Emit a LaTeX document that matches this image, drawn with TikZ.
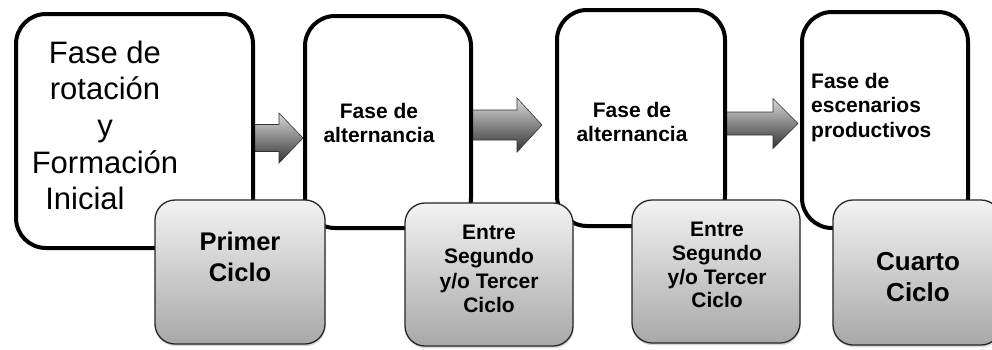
\documentclass[tikz,border=0pt]{standalone}
\usepackage{fontspec}
\setmainfont{Liberation Sans}
\usetikzlibrary{calc,shadows}
\tikzset{
  holder/.style={rectangle, inner sep=0pt, outer sep=0pt},
  wshape/.style={draw=black, line width=4pt, rounded corners=30pt, fill=white},
  gshape/.style={draw=black!85, line width=1.3pt, rounded corners=20pt,
    top color=black!5, bottom color=black!34,
    drop shadow={shadow xshift=0.6pt, shadow yshift=-2.2pt, opacity=0.3}},
  barrow/.style={draw=black!80, line width=0.6pt, top color=black!15, bottom color=black!80},
  bigtxt/.style={font=\fontsize{31}{36.7}\selectfont, align=center, inner sep=0pt, anchor=north},
  medtxt/.style={font=\fontsize{21}{24.2}\selectfont\bfseries, align=center, inner sep=0pt, anchor=north},
  cyctxt/.style={font=\fontsize{25.5}{30.5}\selectfont\bfseries, align=center, inner sep=0pt, anchor=north}
}
\newcommand\BlkArrow[5]{%
  \path[barrow] ($(#1)+(0,#3)$) -- ($(#2)+(-#5,#3)$) -- ($(#2)+(-#5,#4)$) -- (#2)
    -- ($(#2)+(-#5,-#4)$) -- ($(#2)+(-#5,-#3)$) -- ($(#1)+(0,-#3)$) -- cycle;}
\begin{document}
\begin{tikzpicture}[x=1pt,y=1pt]
\useasboundingbox (0,0) rectangle (992,-349);
\clip (0,0) rectangle (992,-349);
\fill[white] (0,0) rectangle (992,-349);

\coordinate (y1) at (0,-138);
\coordinate (y2) at (0,-125);
\coordinate (y3) at (0,-123.5);

% white phase boxes (shape holders)
\node[holder, minimum width=237pt, minimum height=234pt] (b1) at (134.5,-131) {};
\node[holder, minimum width=166pt, minimum height=212pt] (b2) at (388,-122) {};
\node[holder, minimum width=168pt, minimum height=216pt] (b3) at (641,-118) {};
\node[holder, minimum width=166pt, minimum height=216pt] (b4) at (885,-120) {};

% grey cycle boxes (shape holders)
\node[holder, minimum width=170pt, minimum height=144pt] (g1) at (240,-272) {};
\node[holder, minimum width=168pt, minimum height=143pt] (g2) at (489,-274.5) {};
\node[holder, minimum width=168pt, minimum height=143pt] (g3) at (716,-271.5) {};
\node[holder, minimum width=168pt, minimum height=145pt] (g4) at (917,-272.5) {};

\coordinate (s1) at (b1.east |- y1);
\coordinate (t1) at ($(b2.west |- y1)+(-2,0)$);
\coordinate (s2) at (b2.east |- y2);
\coordinate (t2) at ($(b3.west |- y2)+(-15,0)$);
\coordinate (s3) at (b3.east |- y3);
\coordinate (t3) at ($(b4.west |- y3)+(-4,0)$);

% block arrows
\BlkArrow{s1}{t1}{13.5}{25}{24}
\BlkArrow{s2}{t2}{15}{27}{25}
\BlkArrow{s3}{t3}{11.5}{25}{25}

% white boxes
\path[wshape] (b1.south west) rectangle (b1.north east);
\path[wshape] (b2.south west) rectangle (b2.north east);
\path[wshape] (b3.south west) rectangle (b3.north east);
\path[wshape] (b4.south west) rectangle (b4.north east);

% grey boxes
\path[gshape] (g1.south west) rectangle (g1.north east);
\path[gshape] (g2.south west) rectangle (g2.north east);
\path[gshape] (g3.south west) rectangle (g3.north east);
\path[gshape] (g4.south west) rectangle (g4.north east);

% texts
\node[bigtxt] (tx1) at (105,-40.5) {Fase de\\rotación\\y\\Formación\\Inicial\hspace*{40pt}};
\node[medtxt] (tx2) at (379,-103) {Fase de\\alternancia};
\node[medtxt] (tx3) at (632,-102) {Fase de\\alternancia};
\node[medtxt, align=left, anchor=north west, font=\fontsize{21}{24.5}\selectfont\bfseries] (tx4) at (811,-73) {Fase de\\escenarios\\productivos};
\node[cyctxt] (c1) at (240,-232) {Primer\\Ciclo};
\node[medtxt] (c2) at (489,-225) {Entre\\Segundo\\y/o Tercer\\Ciclo};
\node[medtxt, font=\fontsize{21}{23.7}\selectfont\bfseries] (c3) at (717,-222) {Entre\\Segundo\\y/o Tercer\\Ciclo};
\node[cyctxt, font=\fontsize{26}{31}\selectfont\bfseries] (c4) at (918,-252) {Cuarto\\Ciclo};
\end{tikzpicture}
\end{document}
